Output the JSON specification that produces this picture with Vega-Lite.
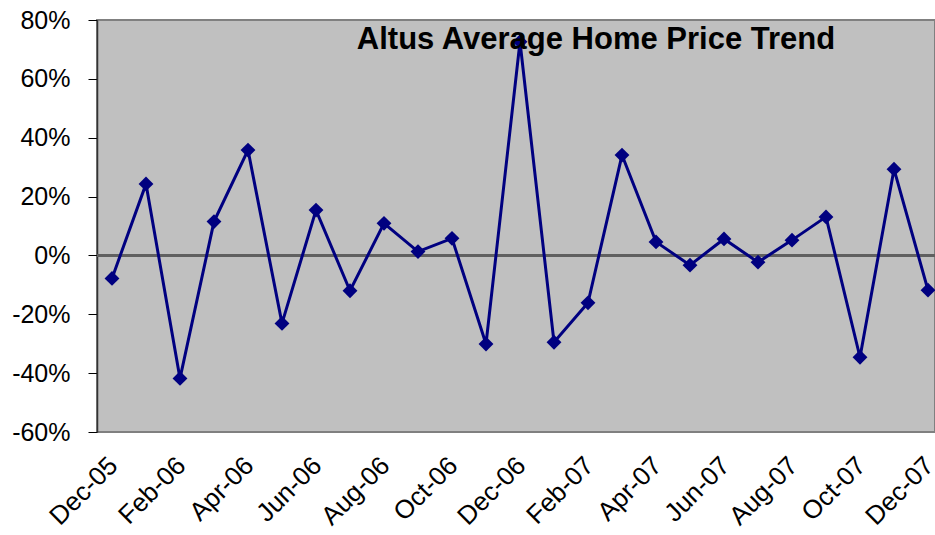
{
  "$schema": "https://vega.github.io/schema/vega-lite/v6.json",
  "autosize": {"type": "none"},
  "width": 838,
  "height": 412,
  "padding": {"left": 97, "top": 20, "right": 0, "bottom": 103},
  "background": "white",
  "title": {
    "text": "Altus Average Home Price Trend",
    "font": "Liberation Sans",
    "fontSize": 31,
    "fontWeight": "bold",
    "color": "black",
    "anchor": "middle",
    "baseline": "alphabetic",
    "offset": -28,
    "dy": 44,
    "dx": 80
  },
  "config": {
    "view": {"fill": "#c0c0c0", "stroke": "#808080", "strokeWidth": 2},
    "axis": {"labelFont": "Liberation Sans", "labelFontSize": 25, "labelColor": "black", "grid": false}
  },
  "data": {
    "values": [
      {"month": "Dec-05", "change": -0.078},
      {"month": "Jan-06", "change": 0.243},
      {"month": "Feb-06", "change": -0.418},
      {"month": "Mar-06", "change": 0.115},
      {"month": "Apr-06", "change": 0.358},
      {"month": "May-06", "change": -0.231},
      {"month": "Jun-06", "change": 0.154},
      {"month": "Jul-06", "change": -0.120},
      {"month": "Aug-06", "change": 0.109},
      {"month": "Sep-06", "change": 0.013},
      {"month": "Oct-06", "change": 0.058},
      {"month": "Nov-06", "change": -0.301},
      {"month": "Dec-06", "change": 0.726},
      {"month": "Jan-07", "change": -0.295},
      {"month": "Feb-07", "change": -0.161},
      {"month": "Mar-07", "change": 0.341},
      {"month": "Apr-07", "change": 0.046},
      {"month": "May-07", "change": -0.033},
      {"month": "Jun-07", "change": 0.056},
      {"month": "Jul-07", "change": -0.023},
      {"month": "Aug-07", "change": 0.052},
      {"month": "Sep-07", "change": 0.131},
      {"month": "Oct-07", "change": -0.346},
      {"month": "Nov-07", "change": 0.293},
      {"month": "Dec-07", "change": -0.118}
    ]
  },
  "encoding": {
    "x": {
      "field": "month",
      "type": "ordinal",
      "sort": null,
      "scale": {"type": "point", "range": [15, 831], "padding": 0},
      "axis": {
        "title": null,
        "domain": false,
        "ticks": false,
        "values": ["Dec-05", "Feb-06", "Apr-06", "Jun-06", "Aug-06", "Oct-06", "Dec-06", "Feb-07", "Apr-07", "Jun-07", "Aug-07", "Oct-07", "Dec-07"],
        "labelAngle": -45,
        "labelAlign": "right",
        "labelBaseline": "middle",
        "labelFontSize": 26,
        "labelPadding": 29,
        "labelOffset": 1
      }
    },
    "y": {
      "field": "change",
      "type": "quantitative",
      "scale": {"domain": [-0.6, 0.8], "nice": false, "zero": false},
      "axis": {
        "title": null,
        "values": [-0.6, -0.4, -0.2, 0, 0.2, 0.4, 0.6, 0.8],
        "format": ".0%",
        "labelExpr": "replace(datum.label, '\u2212', '-')",
        "domainColor": "#333333",
        "domainWidth": 1.5,
        "tickColor": "black",
        "tickSize": 9,
        "labelPadding": 18
      }
    }
  },
  "layer": [
    {
      "mark": {"type": "rule", "color": "#606060", "strokeWidth": 2},
      "encoding": {"y": {"datum": 0}, "x": {"value": 0}, "x2": {"value": 838}}
    },
    {
      "mark": {"type": "line", "color": "#000080", "strokeWidth": 3}
    },
    {
      "mark": {"type": "point", "shape": "diamond", "filled": true, "color": "#000080", "size": 220, "opacity": 1}
    }
  ]
}
